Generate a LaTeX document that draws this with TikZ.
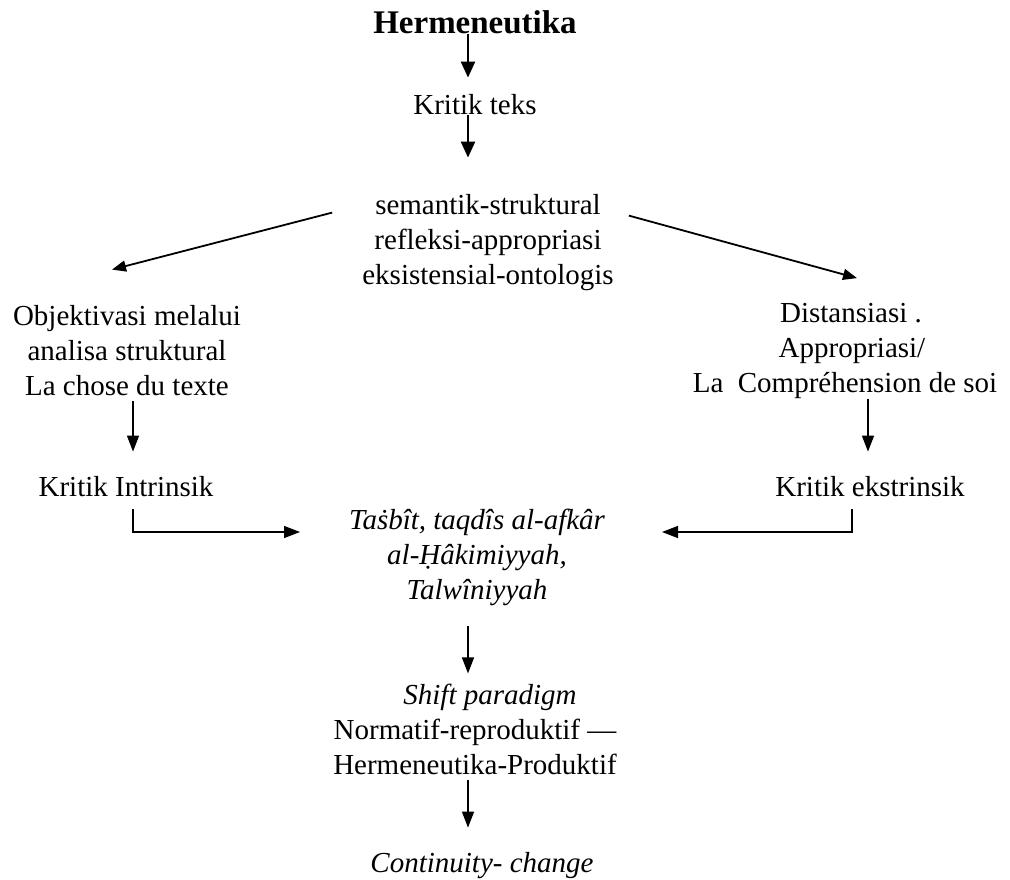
\documentclass[tikz,border=0pt]{standalone}
\usepackage{fontspec}
\setmainfont{Liberation Serif}
\usetikzlibrary{arrows.meta,calc}
\tikzset{
  txt/.style={inner sep=0pt, font=\fontsize{29}{35}\selectfont, align=center, text=black},
  big/.style={inner sep=0pt, font=\bfseries\fontsize{33}{35}\selectfont},
  arrT/.style={-{Triangle[length=16pt,width=14pt]}, line width=2.2pt},
  arrD/.style={-{Triangle[length=14pt,width=11pt]}, line width=1.8pt},
  arrS/.style={-{Triangle[length=16pt,width=12pt]}, line width=1.4pt}
}
\begin{document}
\begin{tikzpicture}[x=1pt,y=-1pt]
\useasboundingbox (0,0) rectangle (1010,880);

\node[big] (herm) at (475,22) {Hermeneutika};
\node[txt] (kt) at (475,105) {Kritik teks};
\node[txt] (sem) at (488,243) {semantik-struktural\\refleksi-appropriasi\\eksistensial-ontologis};
\node[txt] (obj) at (127,351) {Objektivasi melalui\\analisa struktural\\La chose du texte};
\node[txt] (dis) at (845,351) {\hspace*{12pt}Distansiasi .\\\hspace*{14pt}Appropriasi/\\La\ \ Compréhension de soi};
\node[txt] (ki) at (126,487) {Kritik Intrinsik};
\node[txt] (ke) at (870,487) {Kritik ekstrinsik};
\node[txt, font=\fontsize{29}{35}\selectfont\itshape] (tas) at (477,557)
  {Taṡbît, taqdîs al-afkâr\\al-Ḥâkimiyyah,\\Talwîniyyah};
\node[txt] (shift) at (475,729)
  {\hspace*{30pt}\textit{Shift paradigm}\\Normatif-reproduktif —\\Hermeneutika-Produktif};
\node[txt, font=\fontsize{29}{35}\selectfont\itshape] (cont) at (482,866) {Continuity- change};

\coordinate (la) at (300,532);
\coordinate (ra) at (662,532);

% top vertical arrows
\draw[arrT, shorten >=17pt] ([xshift=-7pt]herm.south) -- ([xshift=-7pt]kt.north);
\draw[arrT, shorten >=37pt] ([xshift=-7pt]kt.south) -- ([xshift=-7pt]kt.south |- sem.north);

% diagonal arrows
\draw[arrD] ($(sem.north west)+(-30,18)$) -- ($(obj.north)+(-15,-36)$);
\draw[arrD] ($(sem.north east)+(15,21)$) -- ($(dis.north)+(12,-25)$);

% side vertical arrows
\draw[arrS, shorten <=5pt, shorten >=25pt] ([xshift=6pt]obj.south) -- ([xshift=6pt]obj.south |- ki.north);
\draw[arrS, shorten >=25pt] ([xshift=-2pt]dis.south -| ke.north) -- ([xshift=-2pt]ke.north);

% elbow connectors
\draw[arrS, shorten <=12pt] ([xshift=7pt]ki.south) |- (la);
\draw[arrS, shorten <=12pt] ([xshift=-18pt]ke.south) |- (ra);

% lower vertical arrows
\draw[arrS, shorten <=20pt, shorten >=10pt] ([xshift=-9pt]tas.south) -- ([xshift=-9pt]tas.south |- shift.north);
\draw[arrS, shorten <=5pt, shorten >=25pt] ([xshift=-7pt]shift.south) -- ([xshift=-7pt]shift.south |- cont.north);
\end{tikzpicture}
\end{document}
